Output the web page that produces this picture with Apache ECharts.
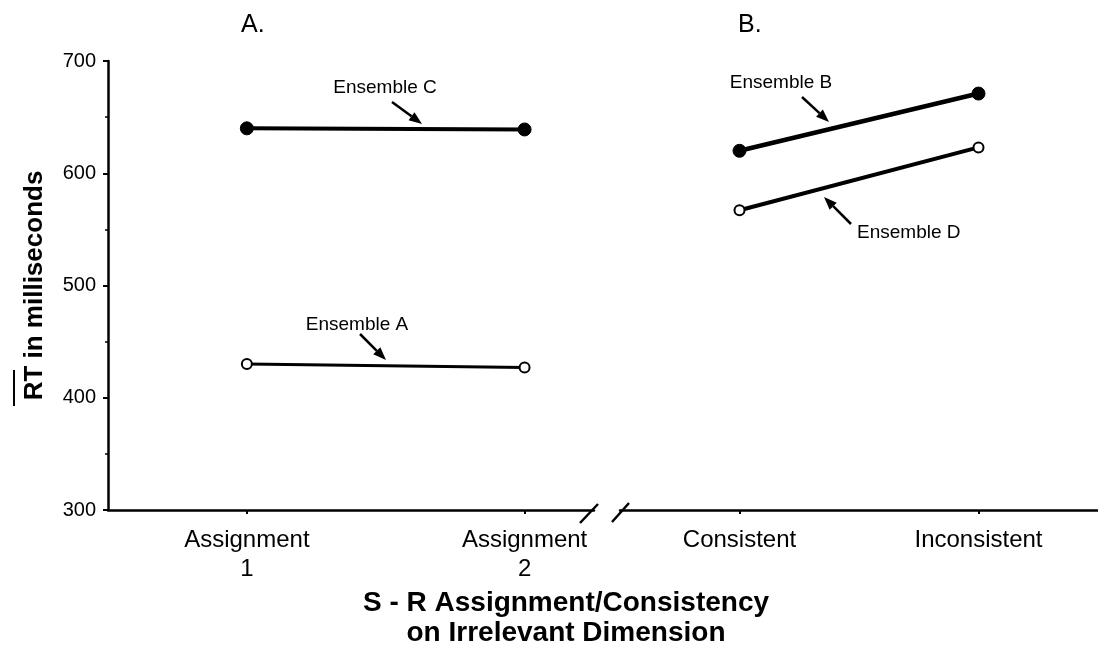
<!DOCTYPE html>
<html>
<head>
<meta charset="utf-8">
<title>RT by ensemble</title>
<script src="https://cdn.jsdelivr.net/npm/echarts@6/dist/echarts.min.js"></script>
<style>
  html, body { margin: 0; padding: 0; background: #fff; }
  #main { width: 1098px; height: 661px; }
</style>
</head>
<body>
<div id="main"></div>
<script>
// values (ms)
var panelA = ['Assignment\n1', 'Assignment\n2'];
var panelB = ['Consistent', 'Inconsistent'];
var ensembleC = [640, 639];
var ensembleA = [430, 427];
var ensembleB = [620, 671];
var ensembleD = [567, 623];
var yTicks = [300, 400, 500, 600, 700];

var font = '"Liberation Sans", Arial, Helvetica, sans-serif';
var ink = '#000';

// x position 1, 2 for each panel
function pts(vals) {
    return vals.map(function (v, i) { return [i + 1, v]; });
}

function xAxisFor(idx, cats, max) {
    return {
        type: 'value', gridIndex: idx, min: 0.5, max: max,
        axisLine: { lineStyle: { color: ink, width: 2.5 } },
        axisTick: { customValues: [1, 2], length: 4, lineStyle: { color: ink, width: 2 } },
        axisLabel: {
            customValues: [1, 2], color: ink, fontFamily: font, fontSize: 24, lineHeight: 29, margin: 16,
            formatter: function (v) { return cats[Math.round(v) - 1]; }
        },
        splitLine: { show: false }
    };
}

function yAxisFor(idx, shown) {
    return {
        type: 'value', gridIndex: idx, show: shown,
        min: yTicks[0], max: yTicks[yTicks.length - 1], interval: 100,
        name: shown ? 'RT in milliseconds' : '',
        nameLocation: 'middle', nameGap: 60,
        nameTextStyle: { color: ink, fontFamily: font, fontSize: 26, fontWeight: 'bold' },
        axisLine: { show: true, lineStyle: { color: ink, width: 2.5 } },
        axisTick: { show: true, length: 5, lineStyle: { color: ink, width: 2 } },
        minorTick: { show: true, splitNumber: 2, length: 3, lineStyle: { color: ink, width: 1.5 } },
        axisLabel: { color: ink, fontFamily: font, fontSize: 20, margin: 12 },
        splitLine: { show: false }
    };
}

function lineSeries(name, grid, vals, filled, width) {
    return {
        name: name, type: 'line', xAxisIndex: grid, yAxisIndex: grid,
        data: pts(vals),
        symbol: 'circle', symbolSize: filled ? 13 : 10,
        itemStyle: filled ? { color: ink, borderColor: ink } : { color: '#fff', borderColor: ink, borderWidth: 2 },
        lineStyle: { color: ink, width: width },
        z: 3
    };
}

// arrow annotation: text plus a line with a filled head
function arrow(x1, y1, x2, y2) {
    var ang = Math.atan2(y2 - y1, x2 - x1), L = 13, W = 5;
    var bx = x2 - L * Math.cos(ang), by = y2 - L * Math.sin(ang);
    var px = -Math.sin(ang) * W, py = Math.cos(ang) * W;
    return [
        { type: 'line', shape: { x1: x1, y1: y1, x2: bx, y2: by }, style: { stroke: ink, lineWidth: 2.5 } },
        { type: 'polygon', shape: { points: [[x2, y2], [bx + px, by + py], [bx - px, by - py]] }, style: { fill: ink } }
    ];
}
function note(text, x, y, align) {
    return { type: 'text', x: x, y: y, style: { text: text, fill: ink, font: '19px ' + font, textAlign: align || 'center', textVerticalAlign: 'middle' } };
}

var graphics = [];
graphics = graphics.concat(
    [note('Ensemble C', 385, 88)], arrow(392, 102, 422, 124),
    [note('Ensemble A', 357, 325)], arrow(360, 334, 386, 360),
    [note('Ensemble B', 781, 83)], arrow(802, 97, 829, 122),
    [note('Ensemble D', 857, 233, 'left')], arrow(851, 224, 824, 197)
);
// axis break marks
graphics.push(
    { type: 'line', shape: { x1: 580, y1: 523, x2: 598, y2: 504 }, style: { stroke: ink, lineWidth: 2.5 } },
    { type: 'line', shape: { x1: 612, y1: 522, x2: 629, y2: 503 }, style: { stroke: ink, lineWidth: 2.5 } },
    // bar over RT
    { type: 'line', shape: { x1: 14, y1: 370, x2: 14, y2: 406 }, style: { stroke: ink, lineWidth: 2 } }
);

var chart = echarts.init(document.getElementById('main'));
var option = {
    animation: false,
    backgroundColor: '#fff',
    title: [
        { text: 'A.', left: 236, top: 8, textStyle: { color: ink, fontFamily: font, fontSize: 25, fontWeight: 'normal' } },
        { text: 'B.', left: 733, top: 8, textStyle: { color: ink, fontFamily: font, fontSize: 25, fontWeight: 'normal' } },
        {
            text: 'S - R Assignment/Consistency\non Irrelevant Dimension', left: 561, top: 583, textAlign: 'center',
            textStyle: { color: ink, fontFamily: font, fontSize: 28, fontWeight: 'bold', lineHeight: 30, align: 'center' }
        }
    ],
    grid: [
        { left: 108, top: 61, width: 486, height: 449 },
        { left: 620, top: 61, right: 0, height: 449 }
    ],
    xAxis: [xAxisFor(0, panelA, 2.25), xAxisFor(1, panelB, 2.5)],
    yAxis: [yAxisFor(0, true), yAxisFor(1, false)],
    series: [
        lineSeries('Ensemble C', 0, ensembleC, true, 4),
        lineSeries('Ensemble A', 0, ensembleA, false, 3),
        lineSeries('Ensemble B', 1, ensembleB, true, 4.5),
        lineSeries('Ensemble D', 1, ensembleD, false, 4)
    ],
    graphic: graphics
};
chart.setOption(option);
</script>
</body>
</html>
